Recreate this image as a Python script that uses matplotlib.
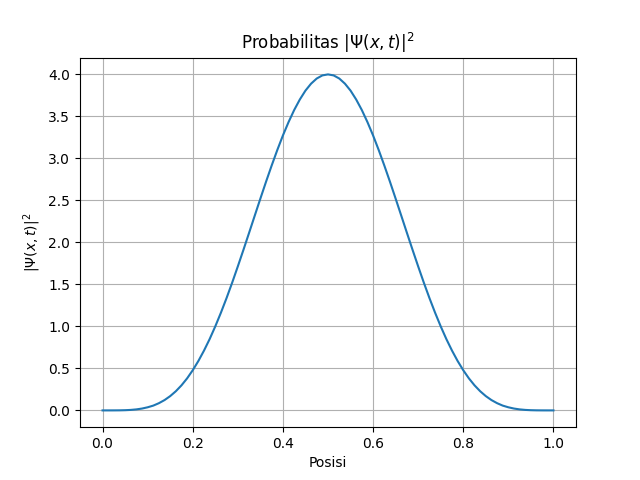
import matplotlib
matplotlib.use("Agg")
import matplotlib.pyplot as plt

# Position values (step 0.0125) and the probability density
posisi = [0.0, 0.0125, 0.025, 0.0375, 0.05, 0.0625, 0.075, 0.0875, 0.1, 0.1125,
          0.125, 0.1375, 0.15, 0.1625, 0.175, 0.1875, 0.2, 0.2125, 0.225, 0.2375,
          0.25, 0.2625, 0.275, 0.2875, 0.3, 0.3125, 0.325, 0.3375, 0.35, 0.3625,
          0.375, 0.3875, 0.4, 0.4125, 0.425, 0.4375, 0.45, 0.4625, 0.475, 0.4875,
          0.5, 0.5125, 0.525, 0.5375, 0.55, 0.5625, 0.575, 0.5875, 0.6, 0.6125,
          0.625, 0.6375, 0.65, 0.6625, 0.675, 0.6875, 0.7, 0.7125, 0.725, 0.7375,
          0.75, 0.7625, 0.775, 0.7875, 0.8, 0.8125, 0.825, 0.8375, 0.85, 0.8625,
          0.875, 0.8875, 0.9, 0.9125, 0.925, 0.9375, 0.95, 0.9625, 0.975, 0.9875,
          1.0]
prob = [0.0, 0.00001, 0.0002, 0.0008, 0.0024, 0.0058, 0.012, 0.022, 0.037, 0.057,
        0.086, 0.123, 0.170, 0.228, 0.298, 0.381, 0.478, 0.588, 0.712, 0.849,
        1.0, 1.163, 1.337, 1.521, 1.714, 1.912, 2.114, 2.318, 2.521, 2.721,
        2.914, 3.099, 3.273, 3.432, 3.576, 3.701, 3.807, 3.890, 3.951, 3.988,
        4.0, 3.988, 3.951, 3.890, 3.807, 3.701, 3.576, 3.432, 3.273, 3.099,
        2.914, 2.721, 2.521, 2.318, 2.114, 1.912, 1.714, 1.521, 1.337, 1.163,
        1.0, 0.849, 0.712, 0.588, 0.478, 0.381, 0.298, 0.228, 0.170, 0.123,
        0.086, 0.057, 0.037, 0.022, 0.012, 0.0058, 0.0024, 0.0008, 0.0002, 0.00001,
        0.0]

fig, ax = plt.subplots(figsize=(6.4, 4.8), dpi=100)
ax.plot(posisi, prob)
ax.set_title(r"Probabilitas $|\Psi(x,t)|^2$")
ax.set_xlabel("Posisi")
ax.set_ylabel(r"$|\Psi(x,t)|^2$")
ax.grid(True)

fig.savefig("out.png", dpi=100)
